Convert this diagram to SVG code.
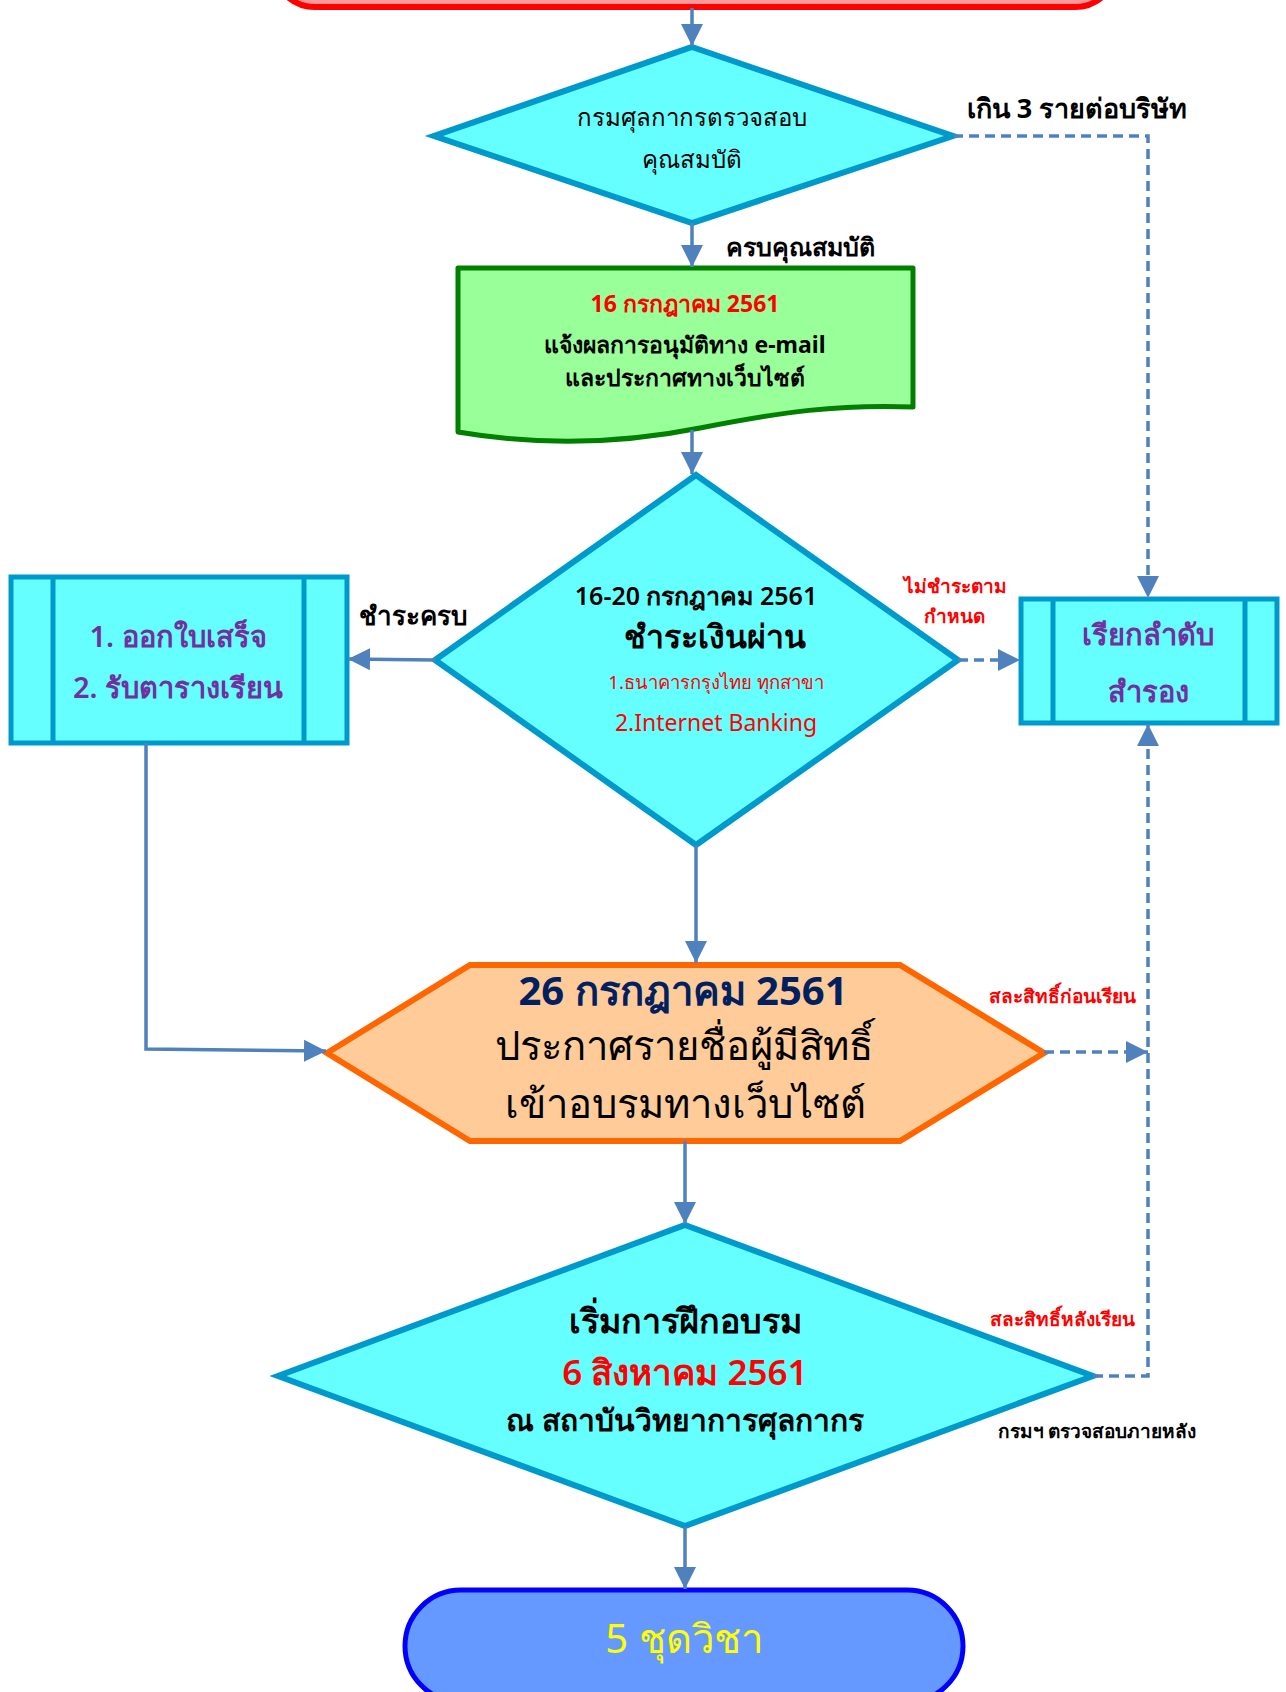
<svg xmlns="http://www.w3.org/2000/svg" width="1286" height="1692" viewBox="0 0 1286 1692">
<defs>
<marker id="ah" viewBox="0 0 10 10" refX="10" refY="5" markerWidth="22" markerHeight="22" markerUnits="userSpaceOnUse" orient="auto">
<path d="M0,0 L10,5 L0,10 z" fill="#4f81bd"/>
</marker>
<style>
text{font-family:"Noto Sans","DejaVu Sans",sans-serif;text-anchor:middle}
.dia{fill:#66ffff;stroke:#0099cc;stroke-width:6;stroke-linejoin:miter}
.box{fill:#66ffff;stroke:#0099cc;stroke-width:5}
.c{fill:none;stroke:#4f81bd;stroke-width:3.5;marker-end:url(#ah)}
.d{stroke-dasharray:10,6}
.b{font-weight:bold}
.m{font-weight:600}
.blk{fill:#000}
.red{fill:#ff0000}
.pur{fill:#7030a0}
</style>
</defs>
<rect width="1286" height="1692" fill="#ffffff"/>
<g id="start">
<rect x="273" y="-80" width="844" height="87" rx="42" fill="#ff9999" stroke="#ff0000" stroke-width="6"/>
</g>
<g id="check">
<polygon class="dia" points="692,47 953,136 692,223 434,136"/>
<text x="692" y="126" font-size="24">กรมศุลกากรตรวจสอบ</text>
<text x="692" y="168" font-size="24">คุณสมบัติ</text>
</g>
<g id="notify">
<path d="M458,268 L913,268 L913,407 C840,404 780,412 700,428 C620,444 540,446 458,432 Z" fill="#99ff99" stroke="#007f00" stroke-width="5" stroke-linejoin="round"/>
<text x="685" y="312" font-size="23" class="b red">16 กรกฎาคม 2561</text>
<text x="685" y="353" font-size="23" class="b blk">แจ้งผลการอนุมัติทาง e-mail</text>
<text x="685" y="386" font-size="23" class="b blk">และประกาศทางเว็บไซต์</text>
</g>
<g id="pay">
<polygon class="dia" points="696,475 958,660 696,845 435,660"/>
<text x="696" y="605" font-size="25" class="m">16-20 กรกฎาคม 2561</text>
<text x="715" y="648" font-size="32" class="b">ชำระเงินผ่าน</text>
<text x="716" y="689" font-size="18.5" class="red">1.ธนาคารกรุงไทย ทุกสาขา</text>
<text x="716" y="731" font-size="23" class="red">2.Internet Banking</text>
</g>
<g id="receipt">
<rect class="box" x="11" y="577" width="336" height="166"/>
<line x1="53" y1="577" x2="53" y2="743" stroke="#0099cc" stroke-width="5"/>
<line x1="304" y1="577" x2="304" y2="743" stroke="#0099cc" stroke-width="5"/>
<text x="178" y="647" font-size="29" class="m pur">1. ออกใบเสร็จ</text>
<text x="178" y="698" font-size="29" class="m pur">2. รับตารางเรียน</text>
</g>
<g id="reserve">
<rect class="box" x="1021" y="599" width="256" height="124"/>
<line x1="1053" y1="599" x2="1053" y2="723" stroke="#0099cc" stroke-width="5"/>
<line x1="1245" y1="599" x2="1245" y2="723" stroke="#0099cc" stroke-width="5"/>
<text x="1148" y="645" font-size="29" class="m pur">เรียกลำดับ</text>
<text x="1148" y="702" font-size="29" class="m pur">สำรอง</text>
</g>
<g id="announce">
<polygon points="327,1053 470,965 900,965 1044,1053 900,1141 470,1141" fill="#ffcc99" stroke="#ff6600" stroke-width="6"/>
<text x="683" y="1005" font-size="40" class="b" fill="#002060">26 กรกฎาคม 2561</text>
<text x="684" y="1060" font-size="40">ประกาศรายชื่อผู้มีสิทธิ์</text>
<text x="685" y="1118" font-size="40">เข้าอบรมทางเว็บไซต์</text>
</g>
<g id="train">
<polygon class="dia" points="685,1225 1093,1376 685,1526 278,1376"/>
<text x="685" y="1333" font-size="34" class="b">เริ่มการฝึกอบรม</text>
<text x="685" y="1385" font-size="35" class="m red">6 สิงหาคม 2561</text>
<text x="685" y="1431" font-size="30" class="b">ณ สถาบันวิทยาการศุลกากร</text>
</g>
<g id="end">
<rect x="405" y="1590" width="558" height="112" rx="56" fill="#6699ff" stroke="#0000ff" stroke-width="5"/>
<text x="684" y="1653" font-size="40" fill="#ffff00">5 ชุดวิชา</text>
</g>
<g id="connectors">
<path class="c" d="M692,8 L692,46"/>
<path class="c d" d="M953,136 L1148,136 L1148,598"/>
<path class="c" d="M692,223 L692,267"/>
<path class="c" d="M692,430 L692,474"/>
<path class="c" d="M435,660 L348,659"/>
<path class="c d" d="M958,660 L1020,660"/>
<path class="c" d="M146,743 L146,1049 L326,1051"/>
<path class="c" d="M696,845 L696,963"/>
<path class="c d" d="M1044,1052 L1148,1052"/>
<path class="c d" d="M1093,1376 L1148,1376 L1148,724"/>
<path class="c" d="M685,1141 L685,1224"/>
<path class="c" d="M685,1527 L685,1589"/>
</g>
<g id="labels">
<text x="1077" y="118" font-size="27" class="b">เกิน 3 รายต่อบริษัท</text>
<text x="800" y="256" font-size="25" class="b">ครบคุณสมบัติ</text>
<text x="413" y="625" font-size="26" class="b">ชำระครบ</text>
<text x="955" y="593" font-size="19" class="b red">ไม่ชำระตาม</text>
<text x="954" y="623" font-size="19" class="b red">กำหนด</text>
<text x="1062" y="1003" font-size="19" class="b red">สละสิทธิ์ก่อนเรียน</text>
<text x="1062" y="1326" font-size="19" class="b red">สละสิทธิ์หลังเรียน</text>
<text x="1097" y="1438" font-size="19" class="b">กรมฯ ตรวจสอบภายหลัง</text>
</g>
</svg>
